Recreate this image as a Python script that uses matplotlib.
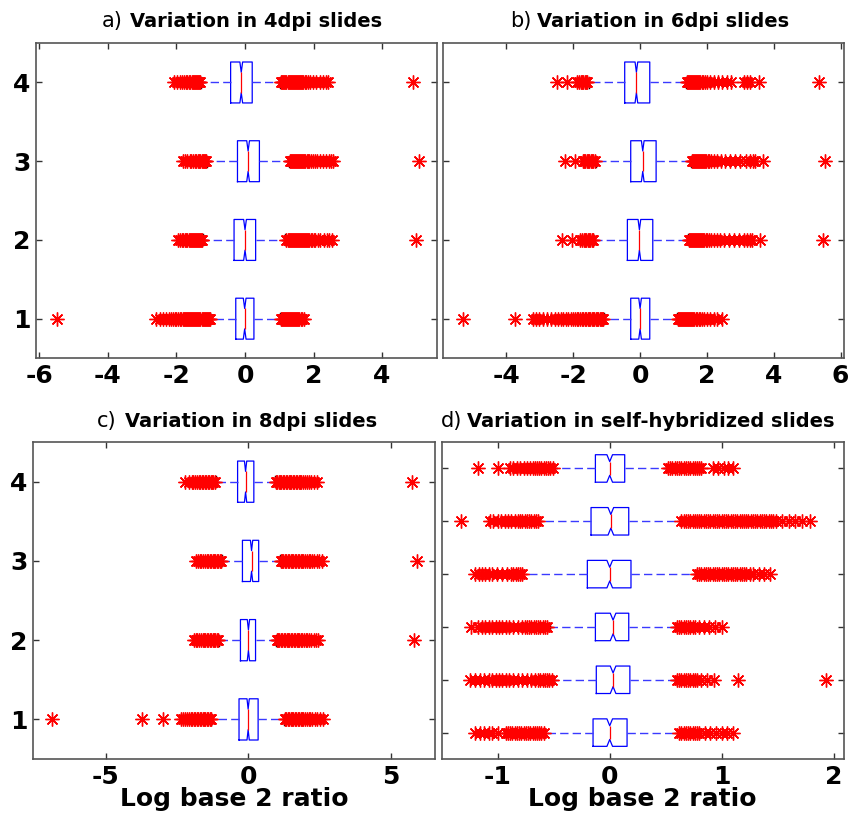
import matplotlib
matplotlib.use("Agg")
import matplotlib.pyplot as plt

plt.rcParams["axes.unicode_minus"] = False

# ---- data (log2 ratios) ----
# each panel: lists ordered from position 1 (bottom) upwards
a_med = [-0.01, 0.0, 0.09, -0.11]
a_q1 = [-0.27, -0.32, -0.22, -0.42]
a_q3 = [0.26, 0.31, 0.42, 0.21]
a_lo = [-1.01, -1.24, -1.11, -1.29]
a_hi = [1.01, 1.18, 1.28, 1.03]
a_fliers = [
    [-5.49, -2.59, -2.48, -2.38, -2.3, -2.22, -2.16, -2.1, -2.05, -2.0, -1.95, -1.9, -1.86, -1.82,
     -1.78, -1.75, -1.72, -1.69, -1.66, -1.63, -1.6, -1.57, -1.54, -1.51, -1.48, -1.45, -1.42,
     -1.39, -1.36, -1.33, -1.3, -1.27, -1.24, -1.21, -1.18, -1.15, -1.12, -1.09, -1.06, -1.03,
     1.04, 1.07, 1.1, 1.13, 1.16, 1.19, 1.22, 1.25, 1.28, 1.31, 1.34, 1.37, 1.4, 1.43, 1.46, 1.49,
     1.52, 1.55, 1.58, 1.62, 1.66, 1.71],
    [-1.96, -1.9, -1.85, -1.8, -1.76, -1.72, -1.68, -1.64, -1.61, -1.58, -1.55, -1.52, -1.49,
     -1.46, -1.43, -1.4, -1.37, -1.34, -1.31, -1.28, -1.26,
     1.21, 1.24, 1.27, 1.3, 1.33, 1.36, 1.39, 1.42, 1.45, 1.48, 1.51, 1.54, 1.57, 1.6, 1.63, 1.66,
     1.69, 1.72, 1.75, 1.78, 1.81, 1.84, 1.88, 1.92, 1.96, 2.0, 2.05, 2.12, 2.2, 2.3, 2.38, 2.45,
     2.53, 4.98],
    [-1.82, -1.75, -1.68, -1.62, -1.57, -1.52, -1.47, -1.42, -1.38, -1.34, -1.3, -1.26, -1.23,
     -1.2, -1.17, -1.14,
     1.31, 1.34, 1.37, 1.4, 1.43, 1.46, 1.49, 1.52, 1.55, 1.58, 1.61, 1.64, 1.67, 1.7, 1.73, 1.76,
     1.8, 1.84, 1.88, 1.92, 1.97, 2.03, 2.1, 2.18, 2.27, 2.36, 2.44, 2.5, 2.58, 5.07],
    [-2.06, -1.98, -1.9, -1.84, -1.78, -1.73, -1.68, -1.64, -1.6, -1.56, -1.52, -1.49, -1.46,
     -1.43, -1.4, -1.37, -1.34, -1.31,
     1.06, 1.09, 1.12, 1.15, 1.18, 1.21, 1.24, 1.27, 1.3, 1.33, 1.36, 1.39, 1.42, 1.45, 1.48, 1.51,
     1.54, 1.57, 1.6, 1.63, 1.66, 1.7, 1.74, 1.78, 1.83, 1.9, 1.98, 2.08, 2.18, 2.28, 2.35, 2.43,
     4.9],
]

b_med = [0.0, -0.02, 0.08, -0.11]
b_q1 = [-0.28, -0.38, -0.28, -0.46]
b_q3 = [0.29, 0.38, 0.48, 0.29]
b_lo = [-1.07, -1.4, -1.32, -1.54]
b_hi = [1.11, 1.43, 1.52, 1.38]
b_fliers = [
    [-5.3, -3.74, -3.2, -3.12, -3.02, -2.9, -2.78, -2.66, -2.56, -2.46, -2.38, -2.3, -2.22, -2.15,
     -2.08, -2.02, -1.96, -1.9, -1.85, -1.8, -1.75, -1.7, -1.65, -1.61, -1.57, -1.53, -1.49,
     -1.45, -1.41, -1.37, -1.33, -1.29, -1.25, -1.21, -1.17, -1.13, -1.1,
     1.13, 1.16, 1.19, 1.22, 1.25, 1.28, 1.31, 1.34, 1.37, 1.4, 1.43, 1.46, 1.49, 1.52, 1.55, 1.58,
     1.62, 1.66, 1.7, 1.75, 1.8, 1.86, 1.92, 2.0, 2.1, 2.2, 2.3, 2.45],
    [-2.34, -2.05, -1.8, -1.74, -1.69, -1.65, -1.61, -1.57, -1.53, -1.49, -1.45, -1.42,
     1.46, 1.49, 1.52, 1.55, 1.58, 1.61, 1.64, 1.67, 1.7, 1.73, 1.76, 1.79, 1.82, 1.85, 1.88,
     1.92, 1.96, 2.0, 2.05, 2.12, 2.2, 2.3, 2.4, 2.52, 2.65, 2.8, 2.95, 3.1, 3.2, 3.28, 3.36, 3.58,
     5.47],
    [-2.26, -1.95, -1.72, -1.68, -1.64, -1.6, -1.56, -1.52, -1.48, -1.44, -1.4, -1.36,
     1.55, 1.58, 1.61, 1.64, 1.67, 1.7, 1.73, 1.76, 1.79, 1.82, 1.85, 1.88, 1.91, 1.94, 1.98, 2.02,
     2.07, 2.12, 2.2, 2.3, 2.42, 2.55, 2.7, 2.85, 3.0, 3.18, 3.3, 3.38, 3.45, 3.68, 5.53],
    [-2.5, -2.2, -1.88, -1.82, -1.78, -1.74, -1.7, -1.66, -1.62, -1.58,
     1.41, 1.44, 1.47, 1.5, 1.53, 1.56, 1.59, 1.62, 1.65, 1.68, 1.71, 1.74, 1.77, 1.8, 1.84, 1.88,
     1.93, 2.0, 2.1, 2.2, 2.32, 2.45, 2.6, 2.72, 3.12, 3.2, 3.28, 3.55, 5.35],
]

c_med = [0.0, 0.01, 0.12, -0.09]
c_q1 = [-0.32, -0.27, -0.2, -0.37]
c_q3 = [0.35, 0.26, 0.37, 0.2]
c_lo = [-1.29, -1.02, -0.9, -1.14]
c_hi = [1.26, 0.97, 1.11, 0.94]
c_fliers = [
    [-6.9, -3.71, -2.99, -2.34, -2.27, -2.2, -2.14, -2.08, -2.02, -1.96, -1.9, -1.85, -1.8, -1.75,
     -1.7, -1.65, -1.6, -1.55, -1.5, -1.45, -1.4, -1.35, -1.31,
     1.29, 1.34, 1.39, 1.44, 1.49, 1.54, 1.59, 1.64, 1.69, 1.74, 1.79, 1.84, 1.89, 1.94, 2.0, 2.06,
     2.12, 2.18, 2.25, 2.33, 2.42, 2.52, 2.63],
    [-1.9, -1.84, -1.78, -1.72, -1.66, -1.6, -1.55, -1.5, -1.45, -1.4, -1.35, -1.3, -1.25, -1.2,
     -1.15, -1.1, -1.05,
     1.0, 1.05, 1.1, 1.15, 1.2, 1.25, 1.3, 1.35, 1.4, 1.45, 1.5, 1.55, 1.6, 1.65, 1.7, 1.75, 1.8,
     1.85, 1.9, 1.96, 2.02, 2.08, 2.15, 2.22, 2.3, 2.38, 2.46, 5.82],
    [-1.84, -1.77, -1.7, -1.64, -1.58, -1.52, -1.46, -1.4, -1.35, -1.3, -1.25, -1.2, -1.15, -1.1,
     -1.05, -1.0, -0.95,
     1.14, 1.19, 1.24, 1.29, 1.34, 1.39, 1.44, 1.49, 1.54, 1.59, 1.64, 1.69, 1.74, 1.79, 1.84,
     1.89, 1.94, 2.0, 2.06, 2.12, 2.18, 2.25, 2.32, 2.4, 2.48, 2.58, 5.91],
    [-2.22, -2.08, -1.98, -1.92, -1.86, -1.8, -1.74, -1.68, -1.62, -1.57, -1.52, -1.47, -1.42,
     -1.37, -1.32, -1.27, -1.22, -1.17,
     0.97, 1.02, 1.07, 1.12, 1.17, 1.22, 1.27, 1.32, 1.37, 1.42, 1.47, 1.52, 1.57, 1.62, 1.67,
     1.72, 1.77, 1.82, 1.87, 1.93, 1.99, 2.05, 2.12, 2.2, 2.3, 2.4, 5.74],
]

d_med = [0.0, 0.03, 0.03, 0.0, 0.01, 0.0]
d_q1 = [-0.149, -0.12, -0.128, -0.2, -0.167, -0.128]
d_q3 = [0.155, 0.18, 0.17, 0.19, 0.17, 0.134]
d_lo = [-0.58, -0.5, -0.535, -0.78, -0.625, -0.506]
d_hi = [0.6, 0.58, 0.58, 0.765, 0.63, 0.506]
d_fliers = [
    [-1.2, -1.16, -1.12, -1.08, -1.05, -1.0, -0.93, -0.91, -0.89, -0.87, -0.85, -0.83, -0.81,
     -0.79, -0.77, -0.75, -0.73, -0.71, -0.69, -0.67, -0.65, -0.63, -0.61, -0.59,
     0.62, 0.64, 0.66, 0.68, 0.7, 0.72, 0.74, 0.76, 0.78, 0.8, 0.85, 0.9, 0.95, 1.0, 1.05, 1.1],
    [-1.25, -1.2, -1.16, -1.12, -1.08, -1.05, -1.02, -0.99, -0.96, -0.93, -0.9, -0.86, -0.82,
     -0.78, -0.74, -0.7, -0.67, -0.64, -0.62, -0.6, -0.58, -0.56, -0.54, -0.52,
     0.6, 0.62, 0.64, 0.66, 0.68, 0.7, 0.72, 0.74, 0.76, 0.78, 0.82, 0.87, 0.93, 1.15, 1.93],
    [-1.24, -1.18, -1.14, -1.11, -1.08, -1.05, -1.02, -0.99, -0.96, -0.93, -0.9, -0.86, -0.82,
     -0.78, -0.76, -0.74, -0.72, -0.7, -0.68, -0.66, -0.64, -0.62, -0.6, -0.58, -0.56,
     0.6, 0.62, 0.64, 0.66, 0.68, 0.7, 0.72, 0.74, 0.76, 0.8, 0.84, 0.89, 0.94, 1.0],
    [-1.2, -1.17, -1.14, -1.11, -1.08, -1.05, -1.01, -0.96, -0.92, -0.88, -0.86, -0.84, -0.82,
     -0.8, -0.78,
     0.78, 0.8, 0.82, 0.84, 0.86, 0.88, 0.9, 0.92, 0.94, 0.96, 0.98, 1.0, 1.02, 1.04, 1.06, 1.08,
     1.1, 1.12, 1.14, 1.16, 1.18, 1.2, 1.22, 1.25, 1.28, 1.33, 1.38, 1.43],
    [-1.33, -1.07, -1.04, -1.0, -0.97, -0.94, -0.91, -0.88, -0.85, -0.82, -0.8, -0.78, -0.76,
     -0.74, -0.72, -0.7, -0.68, -0.66, -0.64,
     0.64, 0.66, 0.68, 0.7, 0.72, 0.74, 0.76, 0.78, 0.8, 0.82, 0.84, 0.86, 0.88, 0.9, 0.92, 0.94,
     0.96, 0.98, 1.0, 1.02, 1.04, 1.06, 1.08, 1.1, 1.12, 1.14, 1.16, 1.18, 1.2, 1.22, 1.24, 1.26,
     1.28, 1.3, 1.32, 1.34, 1.36, 1.38, 1.4, 1.42, 1.44, 1.46, 1.49, 1.54, 1.6, 1.66, 1.72, 1.79],
    [-1.18, -1.0, -0.89, -0.86, -0.83, -0.8, -0.77, -0.74, -0.71, -0.69, -0.67, -0.65, -0.63,
     -0.61, -0.59, -0.57, -0.55, -0.53, -0.51,
     0.52, 0.54, 0.56, 0.58, 0.6, 0.62, 0.64, 0.66, 0.68, 0.7, 0.72, 0.74, 0.76, 0.78, 0.8, 0.82,
     0.92, 0.97, 1.02, 1.06, 1.1],
]

# half width of the notch (confidence interval around the median)
notch_abc = 0.04
notch_d = 0.025

titles = ["Variation in 4dpi slides", "Variation in 6dpi slides",
          "Variation in 8dpi slides", "Variation in self-hybridized slides"]
letters = ["a)", "b)", "c)", "d)"]
xlabel = "Log base 2 ratio"


def make_stats(med, q1, q3, lo, hi, fliers, notch):
    stats = []
    for i in range(len(med)):
        stats.append(dict(med=med[i], q1=q1[i], q3=q3[i], whislo=lo[i], whishi=hi[i],
                          cilo=med[i] - notch, cihi=med[i] + notch, fliers=fliers[i]))
    return stats


def draw_panel(ax, stats):
    n = len(stats)
    ax.bxp(stats, positions=range(1, n + 1), widths=0.52, orientation="horizontal",
           shownotches=True, capwidths=0.14, manage_ticks=False,
           boxprops=dict(color="blue", linewidth=0.9),
           whiskerprops=dict(color="#3a3aff", linewidth=1.0, linestyle=(0, (6, 3))),
           capprops=dict(color="black", linewidth=1.0),
           medianprops=dict(color="red", linewidth=0.9),
           flierprops=dict(marker=(8, 2, 0), markersize=10, markeredgecolor="red",
                           markeredgewidth=1.0, linestyle="none"))
    ax.set_ylim(0.5, n + 0.5)
    ax.set_yticks(range(1, n + 1))
    ax.tick_params(direction="in", length=4, top=True, right=True, width=1.0, color="#333333",
                   labelsize=18, pad=4)
    for sp in ax.spines.values():
        sp.set_color("#555555")
        sp.set_linewidth(1.2)


fig = plt.figure(figsize=(8.53, 8.18), dpi=100)
ax_a = fig.add_axes([0.0422, 0.5623, 0.470, 0.385])
ax_b = fig.add_axes([0.5193, 0.5623, 0.470, 0.385])
ax_c = fig.add_axes([0.0387, 0.0721, 0.471, 0.3875])
ax_d = fig.add_axes([0.518, 0.0721, 0.471, 0.3875])

draw_panel(ax_a, make_stats(a_med, a_q1, a_q3, a_lo, a_hi, a_fliers, notch_abc))
draw_panel(ax_b, make_stats(b_med, b_q1, b_q3, b_lo, b_hi, b_fliers, notch_abc))
draw_panel(ax_c, make_stats(c_med, c_q1, c_q3, c_lo, c_hi, c_fliers, notch_abc))
draw_panel(ax_d, make_stats(d_med, d_q1, d_q3, d_lo, d_hi, d_fliers, notch_d))

ax_a.set_xlim(-6.1, 5.6)
ax_a.set_xticks([-6, -4, -2, 0, 2, 4])
ax_b.set_xlim(-5.9, 6.1)
ax_b.set_xticks([-4, -2, 0, 2, 4, 6])
ax_c.set_xlim(-7.55, 6.55)
ax_c.set_xticks([-5, 0, 5])
ax_d.set_xlim(-1.5, 2.09)
ax_d.set_xticks([-1, 0, 1, 2])

for ax in [ax_a, ax_b, ax_c, ax_d]:
    for lab in ax.get_xticklabels() + ax.get_yticklabels():
        lab.set_fontweight("bold")

ax_b.set_yticklabels([])
ax_d.set_yticklabels([])

# titles: the letter in normal weight, the rest bold
title_pos = [(0.217, 0.234, 1.05), (0.222, 0.234, 1.05), (0.209, 0.229, 1.047), (0.052, 0.062, 1.047)]
for ax, let, tit, (xl, xt, yt) in zip([ax_a, ax_b, ax_c, ax_d], letters, titles, title_pos):
    ax.text(xl, yt, let, transform=ax.transAxes, ha="right", va="baseline", fontsize=15)
    ax.text(xt, yt, tit, transform=ax.transAxes, ha="left", va="baseline", fontsize=14,
            fontweight="bold")

for ax in [ax_c, ax_d]:
    ax.set_xlabel(xlabel, fontsize=18, fontweight="bold", labelpad=-1)

fig.savefig("out.png", dpi=100)
